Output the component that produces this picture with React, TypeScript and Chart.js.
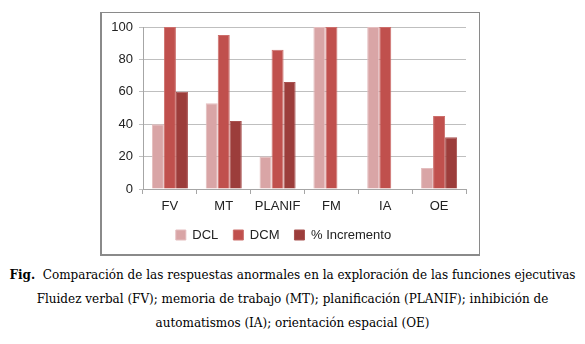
import React, { useEffect, useRef } from "react";
import { Chart, registerables } from "chart.js";

Chart.register(...registerables);

const categories = ["FV", "MT", "PLANIF", "FM", "IA", "OE"];
const dcl = [40, 53, 20, 100, 100, 13];
const dcm = [100, 95, 86, 100, 100, 45];
const incremento = [60, 42, 66, 0, 0, 32];
const yTicks = [0, 20, 40, 60, 80, 100];

export default function App() {
  const ref = useRef<HTMLCanvasElement>(null);
  useEffect(() => {
    const ctx = ref.current!;
    const chart = new Chart(ctx, {
      type: "bar",
      data: {
        labels: categories,
        datasets: [
          { label: "DCL", data: dcl, backgroundColor: "#D9A5A6", borderColor: "#E4BDBE", borderWidth: 1 },
          { label: "DCM", data: dcm, backgroundColor: "#C0504D", borderColor: "#CC6E6B", borderWidth: 1 },
          { label: "% Incremento", data: incremento, backgroundColor: "#9C3D3B", borderColor: "#A85250", borderWidth: 1 },
        ],
      },
      options: {
        animation: false,
        responsive: false,
        maintainAspectRatio: false,
        devicePixelRatio: 1,
        layout: { padding: { left: 0, right: 13, top: 14, bottom: 3.5 } },
        datasets: { bar: { barPercentage: 1, categoryPercentage: 0.67 } },
        plugins: {
          tooltip: { enabled: false },
          legend: {
            position: "bottom",
            labels: {
              boxWidth: 10,
              boxHeight: 10,
              padding: 15,
              color: "#222",
              font: { family: "'Liberation Sans', Arial, sans-serif", size: 13 },
              useBorderRadius: false,
            },
          },
        },
        scales: {
          x: {
            offset: true,
            grid: { offset: true, drawOnChartArea: false, tickLength: 5, color: "#A6A6A6" },
            border: { color: "#A6A6A6" },
            ticks: { color: "#222", padding: 5, font: { family: "'Liberation Sans', Arial, sans-serif", size: 13 } },
            afterFit: (s: any) => { s.height = 24.5; },
          },
          y: {
            min: 0,
            max: 100,
            afterBuildTicks: (s: any) => { s.ticks = yTicks.map((v) => ({ value: v })); },
            grid: { color: "#BFBFBF", tickLength: 4 },
            border: { color: "#A6A6A6" },
            ticks: { color: "#222", padding: 6, font: { family: "'Liberation Sans', Arial, sans-serif", size: 13 } },
            afterFit: (s: any) => { s.width = 42; },
          },
        },
      },
    });
    return () => chart.destroy();
  }, []);

  const capFont = "'DejaVu Serif', Cambria, serif";
  return (
    <div style={{ position: "fixed", left: 0, top: 0, width: 585, height: 344, background: "#fff", overflow: "hidden" }}>
      <div
        style={{
          position: "absolute",
          left: 100,
          top: 12,
          width: 380,
          height: 244,
          boxSizing: "border-box",
          borderTop: "1px solid #8a8a8a",
          borderRight: "1px solid #8a8a8a",
          borderLeft: "2px solid #8a8a8a",
          borderBottom: "2px solid #8a8a8a",
        }}
      />
      <div style={{ position: "absolute", left: 101, top: 13, width: 378, height: 242 }}>
        <canvas ref={ref} width={378} height={242} style={{ width: 378, height: 242, display: "block" }} />
      </div>
      <div
        style={{
          position: "absolute",
          left: 0,
          top: 263,
          width: 585,
          textAlign: "center",
          fontFamily: capFont,
          fontSize: 12,
          lineHeight: "24px",
          color: "#000",
        }}
      >
        <div style={{ whiteSpace: "nowrap" }}>
          <b>Fig.</b>&nbsp; Comparación de las respuestas anormales en la exploración de las funciones ejecutivas
        </div>
        <div style={{ whiteSpace: "nowrap" }}>
          Fluidez verbal (FV); memoria de trabajo (MT); planificación (PLANIF); inhibición de
        </div>
        <div style={{ whiteSpace: "nowrap" }}>automatismos (IA); orientación espacial (OE)</div>
      </div>
    </div>
  );
}
